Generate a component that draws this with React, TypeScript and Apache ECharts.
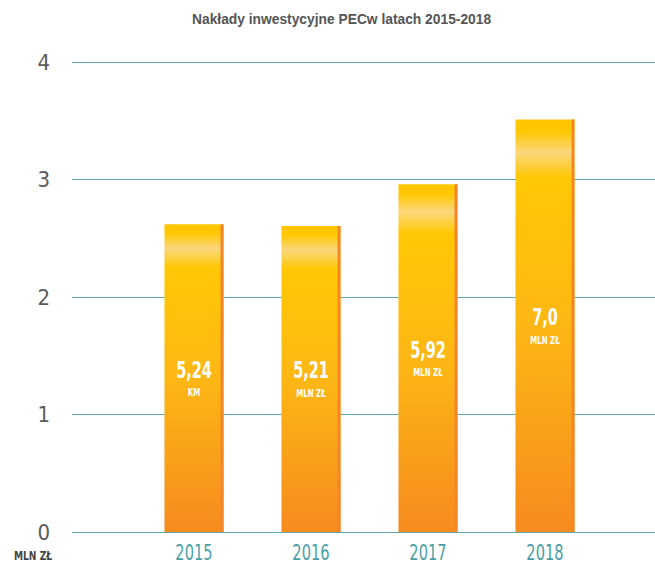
import React, { useEffect, useRef } from "react";
import * as echarts from "echarts";

const title = "Nakłady inwestycyjne PECw latach 2015-2018";
const years = ["2015", "2016", "2017", "2018"];
const barHeights = [2.62, 2.605, 2.96, 3.51];
const valueLabels = ["5,24", "5,21", "5,92", "7,0"];
const unitLabels = ["KM", "MLN ZŁ", "MLN ZŁ", "MLN ZŁ"];
const yTicks = [0, 1, 2, 3, 4];
const yUnit = "MLN ZŁ";

const NARROW = '"DejaVu Sans Condensed", "DejaVu Sans", sans-serif';

export default function App() {
  const ref = useRef<HTMLDivElement>(null);
  useEffect(() => {
    if (!ref.current) return;
    const chart = echarts.init(ref.current, undefined, { renderer: "svg" });
    const stops = [
      { offset: 0, color: "#FFC600" },
      { offset: 0.03, color: "#FFC805" },
      { offset: 0.08, color: "#FAD77C" },
      { offset: 0.14, color: "#FFC805" },
      { offset: 0.5, color: "#FDB714" },
      { offset: 1, color: "#F68B1F" },
    ];
    chart.setOption({
      animation: false,
      backgroundColor: "#ffffff",
      title: {
        text: title,
        left: 187,
        top: 7,
        textStyle: { fontFamily: "Liberation Sans, Arial, sans-serif", fontSize: 13.8, fontWeight: "bold", color: "#555555" },
      },
      grid: [
        { left: 72, right: 0, top: 62, bottom: 34 },
        { left: 135.5, right: 51.5, top: 62, bottom: 34 },
      ],
      xAxis: [
        { type: "category", gridIndex: 0, data: [""], show: false },
        {
          type: "category",
          gridIndex: 1,
          data: years,
          axisLine: { show: false },
          axisTick: { show: false },
          axisLabel: { show: false },
        },
      ],
      yAxis: [
        {
          type: "value",
          gridIndex: 0,
          min: yTicks[0],
          max: yTicks[yTicks.length - 1],
          interval: 1,
          axisLine: { show: false },
          axisTick: { show: false },
          axisLabel: { color: "#5a5a5a", fontFamily: NARROW, fontSize: 22, margin: 22 },
          splitLine: { lineStyle: { color: "#5DA7AB", width: 1 } },
        },
        {
          type: "value",
          gridIndex: 1,
          min: yTicks[0],
          max: yTicks[yTicks.length - 1],
          show: false,
          splitLine: { show: false },
        },
      ],
      graphic: [
        {
          type: "text",
          x: 14,
          y: 549,
          scaleX: 0.78,
          style: { text: yUnit, fill: "#444444", font: `bold 13px ${NARROW}` },
        },
      ],
      series: [
        {
          type: "custom",
          xAxisIndex: 1,
          yAxisIndex: 1,
          clip: false,
          encode: { x: 0, y: 1 },
          data: barHeights.map((h, i) => [i, h]),
          renderItem: (params: any, api: any) => {
            const idx = api.value(0);
            const v = api.value(1);
            const top = api.coord([idx, v]);
            const base = api.coord([idx, 0]);
            const band = api.size([1, 0])[0];
            const w = band * 0.505;
            const x = top[0] - w / 2;
            const h = base[1] - top[1];
            const mid = top[1] + h / 2;
            return {
              type: "group",
              children: [
                {
                  type: "rect",
                  shape: { x, y: top[1], width: w, height: h },
                  style: { fill: new echarts.graphic.LinearGradient(0, 0, 0, 1, stops) },
                },
                {
                  type: "rect",
                  shape: { x: x + w - 3, y: top[1], width: 3, height: h },
                  style: { fill: "#F4862A" },
                },
                {
                  type: "text",
                  x: top[0],
                  y: mid - 8,
                  scaleX: 0.7,
                  style: {
                    text: valueLabels[idx],
                    fill: "#ffffff",
                    font: `bold 23px ${NARROW}`,
                    align: "center",
                    verticalAlign: "middle",
                  },
                },
                {
                  type: "text",
                  x: top[0],
                  y: mid + 15,
                  scaleX: 0.78,
                  style: {
                    text: unitLabels[idx],
                    fill: "#ffffff",
                    font: `bold 10px ${NARROW}`,
                    align: "center",
                    verticalAlign: "middle",
                  },
                },
                {
                  type: "text",
                  x: top[0],
                  y: base[1] + 21,
                  scaleX: 0.74,
                  style: {
                    text: years[idx],
                    fill: "#4A9FA6",
                    font: `22px ${NARROW}`,
                    align: "center",
                    verticalAlign: "middle",
                  },
                },
              ],
            };
          },
        },
      ],
    });
    return () => chart.dispose();
  }, []);
  return <div ref={ref} style={{ position: "fixed", left: 0, top: 0, width: 655, height: 566 }} />;
}
